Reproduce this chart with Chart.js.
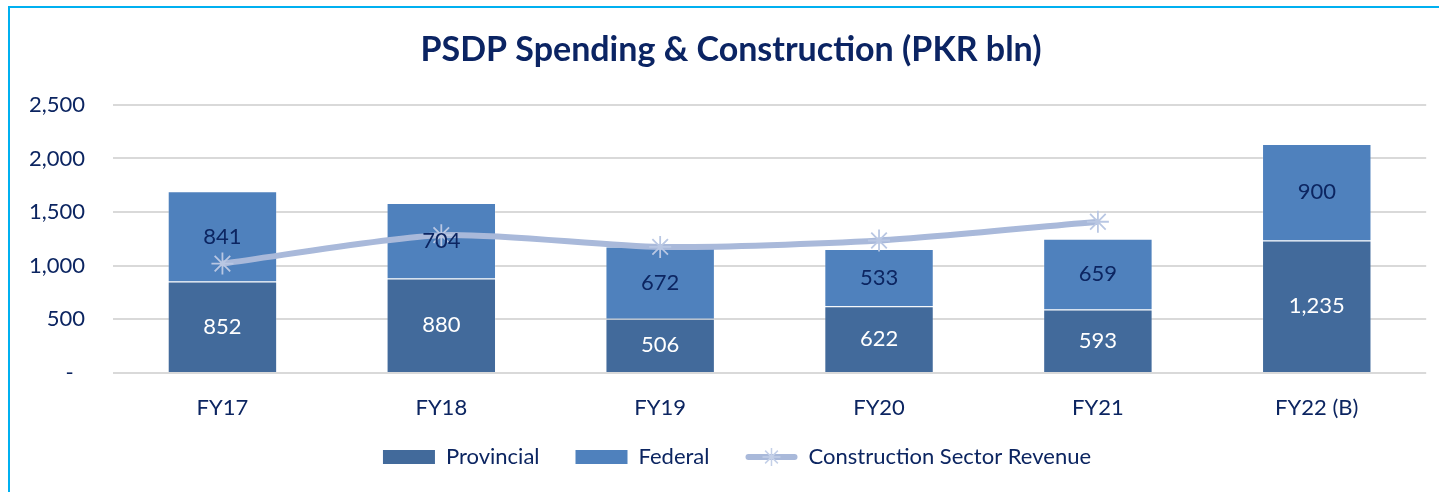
<!DOCTYPE html>
<html lang="en">
  <head>
    <meta charset="UTF-8" />
    <meta name="viewport" content="width=device-width, initial-scale=1.0" />
    <title>PSDP Spending & Construction (PKR bln)</title>
    <script src="https://cdn.jsdelivr.net/npm/chart.js"></script>
    <style>
      * {
        margin: 0;
        padding: 0;
        box-sizing: border-box;
      }
      body {
        width: 1439px;
        height: 492px;
        background: #fff;
        overflow: hidden;
        font-family: Lato, sans-serif;
      }
      .frame {
        position: absolute;
        left: 8px;
        top: 6px;
        width: 1600px;
        height: 700px;
        border-left: 2px solid #00b0f0;
        border-top: 2px solid #00b0f0;
        pointer-events: none;
      }
      .wrap {
        position: absolute;
        left: 0;
        top: 0;
        width: 1439px;
        height: 492px;
      }
    </style>
  </head>
  <body>
    <div class="wrap"><canvas id="psdpChart"></canvas></div>
    <div class="frame"></div>

    <script>
      const categories = ["FY17", "FY18", "FY19", "FY20", "FY21", "FY22 (B)"];
      const provincial = [852, 880, 506, 622, 593, 1235];
      const federal = [841, 704, 672, 533, 659, 900];
      const constructionRevenue = [1020, 1285, 1175, 1235, 1410, null];
      const yTicks = [0, 500, 1000, 1500, 2000, 2500];

      const navy = "#0c2561";
      const lineColor = "#a9b9da";

      // numbers inside the bar segments
      const barLabels = {
        id: "barLabels",
        afterDatasetsDraw(chart) {
          const ctx = chart.ctx;
          ctx.save();
          ctx.font = "22px Lato";
          ctx.textAlign = "center";
          ctx.textBaseline = "middle";
          [0, 1].forEach((di) => {
            const meta = chart.getDatasetMeta(di);
            meta.data.forEach((bar, i) => {
              const v = chart.data.datasets[di].data[i];
              ctx.fillStyle = di === 0 ? "#ffffff" : navy;
              ctx.fillText(v.toLocaleString("en-US"), bar.x, (bar.y + bar.base) / 2);
            });
          });
          ctx.restore();
        },
      };

      // title and legend sit a little off the plot centre in the original
      const nudge = {
        id: "nudge",
        afterLayout(chart) {
          chart.titleBlock.left += 17;
          chart.titleBlock.right += 17;
          chart.legend.left += 23;
          chart.legend.right += 23;
          chart.legend.top -= 14;
          chart.legend.bottom -= 14;
        },
      };

      // legend entry for the line: a thick line with a star on it
      const lineLegend = {
        id: "lineLegend",
        afterDraw(chart) {
          const idx = chart.legend.legendItems.findIndex((it) => it.datasetIndex === 2);
          const box = chart.legend.legendHitBoxes[idx];
          if (!box) return;
          const ctx = chart.ctx;
          const bw = chart.options.plugins.legend.labels.boxWidth;
          const cy = box.top + box.height / 2;
          ctx.save();
          ctx.strokeStyle = lineColor;
          ctx.lineWidth = 6;
          ctx.lineCap = "round";
          ctx.beginPath();
          ctx.moveTo(box.left + 3, cy);
          ctx.lineTo(box.left + bw - 3, cy);
          ctx.stroke();
          ctx.lineCap = "butt";
          ctx.lineWidth = 1.5;
          ctx.strokeStyle = "#c4d0e8";
          const cx = box.left + bw / 2;
          const r = 9;
          ctx.beginPath();
          for (let k = 0; k < 4; k++) {
            const a = (k * Math.PI) / 4;
            ctx.moveTo(cx + Math.cos(a) * r, cy + Math.sin(a) * r);
            ctx.lineTo(cx - Math.cos(a) * r, cy - Math.sin(a) * r);
          }
          ctx.stroke();
          ctx.restore();
        },
      };

      const ctx = document.getElementById("psdpChart").getContext("2d");
      const psdpChart = new Chart(ctx, {
        type: "bar",
        data: {
          labels: categories,
          datasets: [
            {
              label: "Provincial",
              data: provincial,
              backgroundColor: "#426a9b",
              borderColor: "rgba(255,255,255,0.22)",
              borderWidth: 1,
              stack: "psdp",
              order: 1,
            },
            {
              label: "Federal",
              data: federal,
              backgroundColor: "#4f81bd",
              borderColor: "rgba(255,255,255,0.22)",
              borderWidth: 1,
              stack: "psdp",
              order: 1,
            },
            {
              type: "line",
              label: "Construction Sector Revenue",
              data: constructionRevenue,
              borderColor: lineColor,
              backgroundColor: lineColor,
              borderWidth: 6,
              tension: 0.25,
              pointStyle: "star",
              pointRadius: 11,
              pointBorderWidth: 1.8,
              pointBorderColor: "#b9c7e3",
              pointBackgroundColor: "#b9c7e3",
              spanGaps: false,
              order: 0,
            },
          ],
        },
        options: {
          responsive: true,
          maintainAspectRatio: false,
          animation: false,
          layout: { padding: { left: 0, right: 11, top: 0, bottom: 0 } },
          datasets: {
            bar: { categoryPercentage: 1, barPercentage: 0.5 },
          },
          scales: {
            x: {
              stacked: true,
              grid: { display: false, drawTicks: false },
              border: { display: false },
              ticks: { color: navy, font: { family: "Lato", size: 22 }, padding: 22 },
              afterFit(scale) {
                scale.height = 51;
              },
            },
            y: {
              stacked: true,
              min: 0,
              max: 2500,
              afterBuildTicks(scale) {
                scale.ticks = yTicks.map((v) => ({ value: v }));
              },
              grid: { color: "#d9d9d9", lineWidth: 2, drawTicks: false },
              border: { display: false },
              ticks: {
                color: navy,
                font: { family: "Lato", size: 22 },
                padding: 28,
                callback: (v) => (v === 0 ? "-  " : v.toLocaleString("en-US")),
              },
              afterFit(scale) {
                scale.width = 113;
              },
            },
          },
          plugins: {
            title: {
              display: true,
              text: "PSDP Spending & Construction (PKR bln)",
              color: "#0b2463",
              font: { family: "Lato", size: 34, weight: "bold" },
              padding: { top: 30, bottom: 34 },
            },
            legend: {
              position: "bottom",
              labels: {
                color: navy,
                font: { family: "Lato", size: 22 },
                boxWidth: 52,
                boxHeight: 14,
                padding: 36,
                sort: (a, b) => a.datasetIndex - b.datasetIndex,
                generateLabels(chart) {
                  const items = Chart.defaults.plugins.legend.labels.generateLabels(chart);
                  items.forEach((it) => {
                    it.lineWidth = 0;
                    if (it.datasetIndex === 2) {
                      it.fillStyle = "rgba(0,0,0,0)";
                      it.strokeStyle = "rgba(0,0,0,0)";
                    }
                  });
                  return items;
                },
              },
            },
            tooltip: { enabled: false },
          },
        },
        plugins: [barLabels, nudge, lineLegend],
      });
    </script>
  </body>
</html>
